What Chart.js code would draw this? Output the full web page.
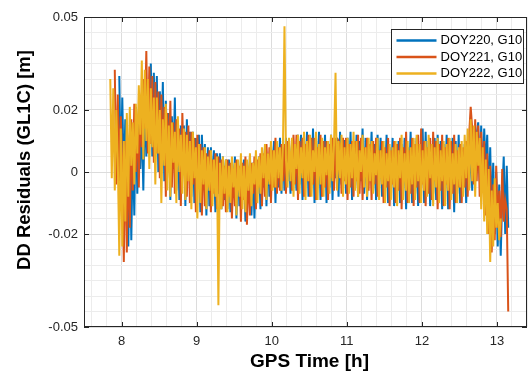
<!DOCTYPE html>
<html>
<head>
<meta charset="utf-8">
<script src="https://cdn.jsdelivr.net/npm/chart.js@4"></script>
<style>
  html, body { margin: 0; padding: 0; background: #fff; }
  #wrap { width: 529px; height: 376px; }
</style>
</head>
<body>
<div id="wrap"><canvas id="residualChart" width="529" height="376"></canvas></div>
<script>
// DD residuals of G10, three consecutive days (GPS time in hours, residual in m)

const timeStep = 0.02;      // h between samples
const startDoy220 = 7.97;
const startDoy221 = 7.91;
const startDoy222 = 7.85;

const residDoy220 = [
  0.031, -0.001, 0.024, -0.004, 0.017, 0.003, -0.024, 0.012, -0.022, 0.009,
  -0.014, 0.021, -0.007, 0.020, 0.001, 0.017, -0.006, 0.023, 0.005, 0.029,
  0.011, 0.035, 0.005, 0.032, 0.008, 0.031, 0.000, 0.026, 0.007, 0.029,
  -0.003, 0.023, 0.005, 0.019, -0.009, 0.018, 0.001, 0.024, -0.006, 0.016,
  -0.009, 0.015, 0.002, 0.015, -0.011, 0.017, -0.001, 0.013, -0.008, 0.013,
  -0.010, 0.011, -0.004, 0.012, -0.013, 0.012, -0.003, 0.009, -0.014, 0.008,
  -0.011, 0.008, -0.005, 0.007, -0.013, 0.006, -0.007, 0.006, -0.012, 0.005,
  -0.009, 0.004, -0.012, 0.004, -0.013, 0.004, -0.008, 0.005, -0.015, 0.002,
  -0.011, 0.004, -0.006, 0.004, -0.016, 0.003, -0.009, 0.005, -0.014, 0.003,
  -0.015, 0.003, -0.007, 0.005, -0.012, 0.004, -0.005, 0.008, -0.011, 0.006,
  -0.008, 0.009, -0.003, 0.010, -0.010, 0.007, -0.005, 0.011, -0.007, 0.008,
  -0.006, 0.011, -0.003, 0.009, -0.007, 0.010, 0.005, 0.004, -0.006, 0.012,
  -0.004, 0.012, -0.009, 0.010, 0.000, 0.013, -0.008, 0.009, -0.003, 0.014,
  -0.010, 0.011, -0.004, 0.013, -0.009, 0.008, -0.001, 0.012, -0.010, 0.010,
  -0.005, 0.012, -0.009, 0.009, -0.002, 0.011, -0.008, 0.013, -0.004, 0.010,
  0.010, -0.007, 0.011, -0.003, 0.013, -0.009, 0.009, -0.005, 0.012, -0.008,
  0.010, -0.003, 0.014, -0.007, 0.011, -0.009, 0.008, -0.001, 0.013, -0.006,
  0.009, -0.009, 0.012, -0.004, 0.011, -0.008, 0.007, -0.002, 0.012, -0.010,
  0.008, -0.005, 0.011, -0.011, 0.007, -0.004, 0.010, -0.010, 0.009, -0.006,
  0.011, -0.012, 0.008, -0.003, 0.013, -0.010, 0.007, -0.007, 0.011, -0.011,
  0.009, -0.005, 0.014, -0.010, 0.013, -0.004, 0.010, -0.011, 0.008, -0.007,
  0.011, -0.009, 0.012, -0.003, 0.010, -0.012, 0.009, -0.006, 0.012, -0.012,
  0.008, -0.004, 0.011, -0.013, 0.010, -0.007, 0.012, -0.010, 0.007, -0.005,
  0.009, -0.010, 0.008, -0.005, 0.011, -0.006, 0.013, -0.002, 0.012, 0.016,
  -0.003, 0.015, -0.006, 0.014, 0.001, 0.012, -0.010, 0.008, -0.015, 0.003,
  -0.020, 0.000, -0.024, -0.004, -0.027, -0.008, 0.005, -0.020, 0.002, -0.018
];

const residDoy221 = [
  0.033, -0.004, 0.025, -0.003, 0.018, 0.002, -0.029, 0.010, -0.026, 0.008,
  -0.018, 0.017, -0.006, 0.022, 0.000, 0.018, -0.005, 0.024, 0.008, 0.030,
  0.014, 0.039, 0.006, 0.034, 0.009, 0.031, 0.003, 0.029, 0.006, 0.026,
  -0.002, 0.025, 0.004, 0.021, -0.008, 0.019, 0.001, 0.023, -0.005, 0.016,
  -0.007, 0.017, 0.002, 0.014, -0.011, 0.019, -0.001, 0.013, -0.008, 0.015,
  -0.010, 0.013, -0.004, 0.011, -0.013, 0.012, -0.003, 0.009, -0.014, 0.008,
  -0.011, 0.006, -0.005, 0.007, -0.013, 0.004, -0.007, 0.006, -0.012, 0.005,
  -0.009, 0.004, -0.011, 0.002, -0.013, 0.004, -0.008, 0.003, -0.015, 0.001,
  -0.011, 0.004, -0.006, 0.002, -0.016, 0.003, -0.009, 0.005, -0.017, 0.001,
  -0.014, 0.003, -0.007, 0.005, -0.012, 0.004, -0.005, 0.006, -0.011, 0.006,
  -0.008, 0.009, -0.003, 0.008, -0.010, 0.007, -0.005, 0.011, -0.007, 0.008,
  -0.006, 0.009, -0.003, 0.009, -0.007, 0.010, 0.006, 0.003, -0.006, 0.012,
  -0.004, 0.012, -0.009, 0.010, 0.000, 0.011, -0.008, 0.009, -0.003, 0.012,
  -0.008, 0.011, -0.004, 0.011, -0.009, 0.008, -0.001, 0.012, -0.008, 0.010,
  -0.005, 0.010, -0.009, 0.009, -0.002, 0.011, -0.006, 0.011, -0.004, 0.010,
  0.009, -0.007, 0.011, -0.003, 0.011, -0.009, 0.009, -0.005, 0.010, -0.008,
  0.010, -0.003, 0.012, -0.007, 0.011, -0.009, 0.008, -0.001, 0.011, -0.006,
  0.009, -0.009, 0.010, -0.004, 0.011, -0.008, 0.007, -0.002, 0.010, -0.010,
  0.008, -0.005, 0.011, -0.011, 0.007, -0.004, 0.010, -0.010, 0.009, -0.006,
  0.011, -0.012, 0.008, -0.003, 0.013, -0.010, 0.007, -0.007, 0.011, -0.011,
  0.009, -0.005, 0.012, -0.010, 0.014, -0.004, 0.010, -0.011, 0.008, -0.007,
  0.011, -0.009, 0.013, -0.003, 0.010, -0.012, 0.009, -0.006, 0.012, -0.011,
  0.008, -0.004, 0.011, -0.012, 0.010, -0.007, 0.012, -0.010, 0.007, -0.005,
  0.009, -0.010, 0.008, -0.005, 0.010, -0.008, 0.012, 0.021, 0.014, -0.004,
  0.017, -0.003, 0.015, -0.008, 0.013, -0.004, 0.010, -0.014, 0.006, -0.020,
  0.002, -0.026, -0.004, -0.022, 0.002, -0.018, -0.006, -0.021, 0.001, -0.016,
  -0.009, -0.012, -0.045
];

const residDoy222 = [
  0.030, -0.002, 0.027, -0.006, 0.020, 0.004, -0.027, 0.014, -0.024, 0.010,
  -0.016, 0.019, -0.008, 0.021, 0.002, 0.016, -0.004, 0.022, 0.006, 0.028,
  0.012, 0.036, 0.004, 0.033, 0.010, 0.030, 0.001, 0.027, 0.008, 0.024,
  -0.004, 0.024, 0.006, 0.020, -0.010, 0.017, 0.002, 0.022, -0.006, 0.015,
  -0.008, 0.016, 0.003, 0.013, -0.010, 0.018, 0.000, 0.012, -0.007, 0.014,
  -0.009, 0.012, -0.003, 0.010, -0.012, 0.013, -0.002, 0.008, -0.015, 0.009,
  -0.010, 0.007, -0.004, 0.008, -0.012, 0.005, -0.006, 0.007, -0.011, 0.004,
  -0.008, 0.005, -0.043, 0.003, -0.012, 0.005, -0.007, 0.004, -0.013, 0.002,
  -0.010, 0.005, -0.005, 0.003, -0.014, 0.004, -0.008, 0.006, -0.012, 0.002,
  -0.013, 0.004, -0.006, 0.006, -0.011, 0.003, -0.004, 0.007, -0.010, 0.005,
  -0.007, 0.008, -0.002, 0.009, -0.009, 0.006, -0.004, 0.010, -0.006, 0.007,
  -0.005, 0.010, -0.002, 0.008, -0.006, 0.009, 0.047, 0.004, -0.005, 0.011,
  -0.003, 0.011, -0.008, 0.009, 0.001, 0.012, -0.007, 0.008, -0.002, 0.013,
  -0.009, 0.010, -0.003, 0.012, -0.008, 0.007, 0.000, 0.013, -0.009, 0.009,
  -0.004, 0.011, -0.008, 0.008, -0.001, 0.010, -0.007, 0.012, -0.003, 0.009,
  0.032, -0.006, 0.010, -0.002, 0.012, -0.008, 0.008, -0.004, 0.011, -0.007,
  0.009, -0.002, 0.013, -0.006, 0.010, -0.008, 0.007, 0.000, 0.012, -0.005,
  0.008, -0.008, 0.011, -0.003, 0.010, -0.007, 0.006, -0.001, 0.011, -0.009,
  0.007, -0.004, 0.010, -0.010, 0.006, -0.003, 0.009, -0.009, 0.008, -0.005,
  0.010, -0.011, 0.007, -0.002, 0.012, -0.009, 0.006, -0.006, 0.010, -0.010,
  0.008, -0.004, 0.011, -0.009, 0.012, -0.003, 0.009, -0.010, 0.007, -0.006,
  0.010, -0.008, 0.012, -0.002, 0.009, -0.011, 0.008, -0.005, 0.011, -0.010,
  0.007, -0.003, 0.010, -0.011, 0.009, -0.006, 0.011, -0.009, 0.006, -0.004,
  0.009, -0.010, 0.008, -0.005, 0.010, -0.008, 0.012, -0.002, 0.014, -0.006,
  0.017, -0.003, 0.015, -0.008, 0.013, 0.002, 0.011, -0.012, 0.008, -0.016,
  0.004, -0.020, 0.001, -0.029, -0.006, -0.024, -0.002, -0.018, -0.010, -0.022,
  -0.015
];

const seriesLabels = ["DOY220, G10", "DOY221, G10", "DOY222, G10"];
const seriesColors = ["#0072BD", "#D95319", "#EDB120"];

const xTitle = "GPS Time [h]";
const yTitle = "DD Residuals (GL1C) [m]";
const xTickLabels = [8, 9, 10, 11, 12, 13];
const yTickLabels = [-0.05, -0.02, 0, 0.02, 0.05];

/* -------------------- helpers -------------------- */

function toPoints(start, values) {
  return values.map((v, i) => ({
    x: Math.round((start + i * timeStep) * 1000) / 1000,
    y: v
  }));
}

function isIn(list, v) {
  return list.some(m => Math.abs(m - v) < 1e-9);
}

// minor grid every 0.2 h and every 0.005 m, like the MATLAB figure
const xGridValues = [];
for (let i = 38; i <= 67; i++) xGridValues.push(Math.round(i * 2) / 10);
const yGridValues = [];
for (let i = -10; i <= 10; i++) yGridValues.push(Math.round(i * 5) / 1000);

const axisColor = "#262626";
const majorGrid = "#dcdcdc";
const minorGrid = "#ececec";
const fontFamily = "'Liberation Sans', Arial, Helvetica, sans-serif";

/* -------------------- plugins -------------------- */

// axes box with inward ticks, plus the two axis titles
const boxPlugin = {
  id: "boxPlugin",
  afterDraw(chart) {
    const { ctx, chartArea: a, scales } = chart;
    ctx.save();
    ctx.strokeStyle = axisColor;
    ctx.lineWidth = 1;
    ctx.beginPath();
    xTickLabels.forEach(v => {
      const px = Math.round(scales.x.getPixelForValue(v)) + 0.5;
      ctx.moveTo(px, a.bottom);
      ctx.lineTo(px, a.bottom - 5);
      ctx.moveTo(px, a.top);
      ctx.lineTo(px, a.top + 5);
    });
    yTickLabels.forEach(v => {
      const py = Math.round(scales.y.getPixelForValue(v)) + 0.5;
      ctx.moveTo(a.left, py);
      ctx.lineTo(a.left + 5, py);
      ctx.moveTo(a.right, py);
      ctx.lineTo(a.right - 5, py);
    });
    ctx.stroke();
    ctx.strokeRect(Math.round(a.left) + 0.5, Math.round(a.top) + 0.5,
      Math.round(a.right - a.left) - 1, Math.round(a.bottom - a.top) - 1);

    ctx.fillStyle = "#000";
    ctx.textAlign = "center";
    ctx.textBaseline = "middle";
    ctx.font = "bold 19px " + fontFamily;
    ctx.fillText(xTitle, (a.left + a.right) / 2 + 4, 362);
    ctx.translate(24.5, (a.top + a.bottom) / 2 - 12);
    ctx.rotate(-Math.PI / 2);
    ctx.font = "bold 18.5px " + fontFamily;
    ctx.fillText(yTitle, 0, 0);
    ctx.restore();
  }
};

// boxed legend in the upper right corner
const legendPlugin = {
  id: "legendPlugin",
  afterDraw(chart) {
    const { ctx, chartArea: a } = chart;
    const boxW = 132, boxH = 54;
    const bx = Math.round(a.right) - 4 - boxW + 0.5;
    const by = Math.round(a.top) + 12 + 0.5;
    ctx.save();
    ctx.fillStyle = "#fff";
    ctx.fillRect(bx, by, boxW, boxH);
    ctx.strokeStyle = axisColor;
    ctx.lineWidth = 1;
    ctx.strokeRect(bx, by, boxW, boxH);
    ctx.font = "13px " + fontFamily;
    ctx.textBaseline = "middle";
    chart.data.datasets.forEach((ds, i) => {
      const cy = by + 11 + i * 16.5;
      ctx.strokeStyle = ds.borderColor;
      ctx.lineWidth = 2.5;
      ctx.beginPath();
      ctx.moveTo(bx + 5, cy);
      ctx.lineTo(bx + 45, cy);
      ctx.stroke();
      ctx.fillStyle = "#000";
      ctx.fillText(ds.label, bx + 49, cy);
    });
    ctx.restore();
  }
};

/* -------------------- chart -------------------- */

function buildResidualChart() {
  const ctx = document.getElementById("residualChart").getContext("2d");
  const series = [
    toPoints(startDoy220, residDoy220),
    toPoints(startDoy221, residDoy221),
    toPoints(startDoy222, residDoy222)
  ];

  new Chart(ctx, {
    type: "line",
    data: {
      datasets: series.map((pts, i) => ({
        label: seriesLabels[i],
        data: pts,
        borderColor: seriesColors[i],
        backgroundColor: seriesColors[i],
        borderWidth: 2,
        pointRadius: 0,
        tension: 0,
        fill: false,
        order: 3 - i // DOY222 drawn last, on top
      }))
    },
    options: {
      responsive: false,
      animation: false,
      layout: { padding: { top: 17, right: 2, left: 0, bottom: 0 } },
      plugins: {
        legend: { display: false },
        tooltip: { enabled: false }
      },
      scales: {
        x: {
          type: "linear",
          min: 7.5,
          max: 13.4,
          afterBuildTicks: s => { s.ticks = xGridValues.map(v => ({ value: v })); },
          afterFit: s => {
            s.height = 49;
            s.paddingLeft = 0;
            s.paddingRight = 0;
          },
          border: { display: false },
          grid: {
            drawTicks: false,
            color: c => (c.tick && isIn(xTickLabels, c.tick.value)) ? majorGrid : minorGrid
          },
          ticks: {
            autoSkip: false,
            maxRotation: 0,
            padding: 7,
            color: axisColor,
            font: { family: fontFamily, size: 13 },
            callback: v => isIn(xTickLabels, v) ? String(Math.round(v)) : ""
          }
        },
        y: {
          type: "linear",
          min: -0.05,
          max: 0.05,
          afterBuildTicks: s => { s.ticks = yGridValues.map(v => ({ value: v })); },
          afterFit: s => { s.width = 84; },
          border: { display: false },
          grid: {
            drawTicks: false,
            color: c => (c.tick && isIn(yTickLabels, c.tick.value)) ? majorGrid : minorGrid
          },
          ticks: {
            autoSkip: false,
            padding: 6,
            color: axisColor,
            font: { family: fontFamily, size: 13 },
            callback: v => isIn(yTickLabels, v) ? (Math.abs(v) < 1e-9 ? "0" : String(v)) : ""
          }
        }
      }
    },
    plugins: [boxPlugin, legendPlugin]
  });
}

window.addEventListener("DOMContentLoaded", () => {
  buildResidualChart();
});
</script>
</body>
</html>
